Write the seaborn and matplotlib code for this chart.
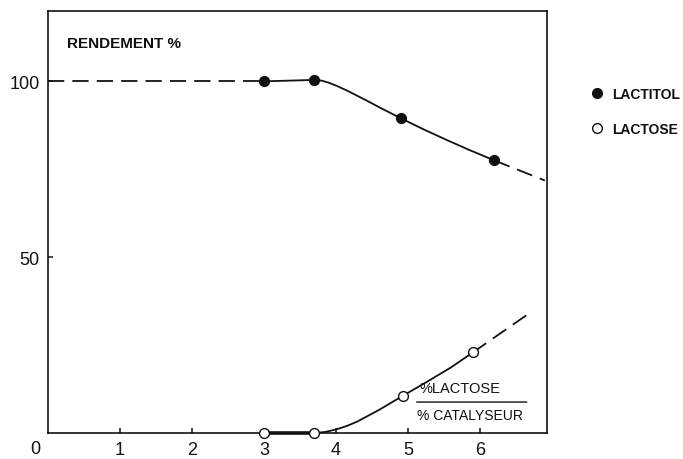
import matplotlib
matplotlib.use("Agg")
import matplotlib.pyplot as plt
import seaborn as sns
from matplotlib.lines import Line2D

# ---- data ----
x_ticks = [1, 2, 3, 4, 5, 6]
y_ticks = [50, 100]

# measured points
lactitol_x = [3.0, 3.7, 4.9, 6.2]
lactitol_y = [100.0, 100.4, 89.5, 77.5]
lactose_x = [3.0, 3.7, 4.93, 5.9]
lactose_y = [0.0, 0.0, 10.6, 22.9]

# traced fitted curves (solid parts)
lactitol_curve_x = [3.0, 3.7, 3.8, 3.9, 4.0, 4.15, 4.4, 4.65, 4.9, 5.2, 5.54, 5.85, 6.2]
lactitol_curve_y = [100.0, 100.4, 100.2, 99.6, 98.8, 97.4, 94.8, 92.1, 89.5, 86.5, 83.3, 80.5, 77.5]
lactose_base_x = [3.0, 3.7]
lactose_base_y = [0.0, 0.0]
lactose_curve_x = [3.7, 3.85, 4.0, 4.15, 4.3, 4.6, 4.93, 5.25, 5.6, 5.9]
lactose_curve_y = [0.0, 0.3, 1.0, 2.0, 3.3, 6.6, 10.6, 14.4, 18.7, 22.9]

# extrapolated (dashed) parts
lactitol_lead_x = [0.0, 3.0]
lactitol_lead_y = [100.0, 100.0]
lactitol_ext_x = [6.2, 6.9]
lactitol_ext_y = [77.5, 71.8]
lactose_ext_x = [5.9, 6.68]
lactose_ext_y = [22.9, 34.0]

# ---- style ----
sns.set_style("ticks")
plt.rcParams["font.family"] = ["Liberation Sans", "DejaVu Sans"]
plt.rcParams["axes.linewidth"] = 1.2

fig = plt.figure(figsize=(6.83, 4.60), dpi=100)
ax = fig.add_axes([48 / 683, 26 / 460, (547 - 48) / 683, (434 - 12) / 460])

ink = "#111111"
lw = 1.3
dash = (0, (9, 4.5))

sns.lineplot(x=lactitol_curve_x, y=lactitol_curve_y, sort=False, estimator=None,
             color=ink, lw=lw, ax=ax)
sns.lineplot(x=lactose_curve_x, y=lactose_curve_y, sort=False, estimator=None,
             color=ink, lw=lw, ax=ax)
sns.lineplot(x=lactose_base_x, y=lactose_base_y, sort=False, estimator=None,
             color=ink, lw=2.6, ax=ax, clip_on=False)
for xs, ys in [(lactitol_lead_x, lactitol_lead_y),
               (lactitol_ext_x, lactitol_ext_y),
               (lactose_ext_x, lactose_ext_y)]:
    sns.lineplot(x=xs, y=ys, sort=False, estimator=None, color=ink, lw=lw,
                 linestyle=dash, ax=ax)

sns.scatterplot(x=lactitol_x, y=lactitol_y, s=50, color=ink, edgecolor=ink,
                linewidth=1.0, zorder=4, ax=ax, legend=False)
sns.scatterplot(x=lactose_x, y=lactose_y, s=50, color="white", edgecolor=ink,
                linewidth=1.0, zorder=4, ax=ax, legend=False, clip_on=False)

ax.set_xlim(0, 6.93)
ax.set_ylim(0, 120)
ax.set_xticks(x_ticks)
ax.set_yticks(y_ticks)
ax.set_xticklabels([str(t) for t in x_ticks])
ax.set_yticklabels([str(t) for t in y_ticks])
ax.tick_params(direction="in", length=3.6, width=1.1, labelsize=13, colors=ink)
ax.tick_params(axis="x", pad=5.5)
ax.tick_params(axis="y", pad=6)
for s in ax.spines.values():
    s.set_visible(True)
    s.set_color(ink)
ax.set_xlabel("")
ax.set_ylabel("")

# corner zero
ax.annotate("0", xy=(0, 0), xytext=(-9.4, -11.5), textcoords="offset points",
            ha="center", va="center", fontsize=13, color=ink, annotation_clip=False)

# y title inside
ax.text(0.26, 111, "RENDEMENT %", fontsize=11, fontweight="bold", color=ink,
        ha="left", va="center")

# fraction label
ax.text(5.16, 12.8, "%LACTOSE", fontsize=10.5, color=ink, ha="left", va="center")
ax.annotate("", xy=(6.65, 8.8), xytext=(5.12, 8.8),
            arrowprops=dict(arrowstyle="-", color=ink, lw=1.0, shrinkA=0, shrinkB=0))
ax.text(5.12, 5.1, "% CATALYSEUR", fontsize=10, color=ink, ha="left", va="center")

# legend
handles = [
    Line2D([], [], ls="none", marker="o", markersize=7, markerfacecolor=ink,
           markeredgecolor=ink, label="LACTITOL"),
    Line2D([], [], ls="none", marker="o", markersize=7, markerfacecolor="white",
           markeredgecolor=ink, label="LACTOSE"),
]
fig.legend(handles=handles, loc="upper left", bbox_to_anchor=(590 / 683, 1 - 88 / 460),
           frameon=False, prop={"weight": "bold", "size": 10}, labelspacing=1.5,
           handlelength=1.0, handletextpad=0.6, borderpad=0, borderaxespad=0,
           labelcolor=ink)

fig.savefig("out.png", dpi=100)
